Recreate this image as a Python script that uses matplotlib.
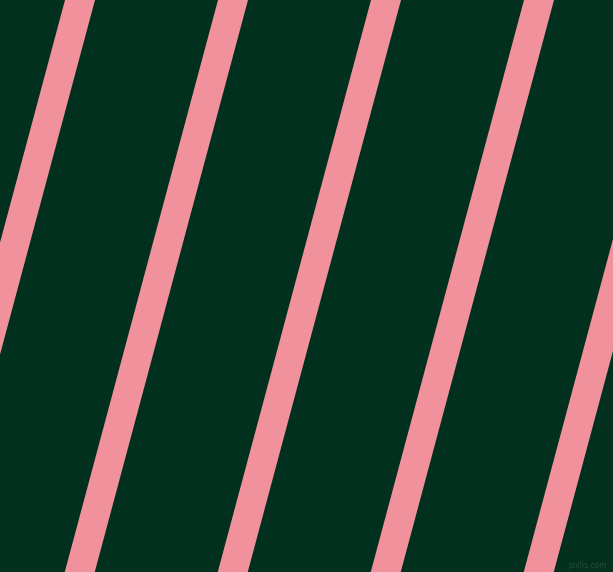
import matplotlib
matplotlib.use("Agg")
import matplotlib.pyplot as plt

# Pattern data
stripe_left_top = [-88, 65, 218, 371, 524, 677]   # x of stripe left edge at top (px)
stripe_width = 30                                  # horizontal width (px)
stripe_slope = 0.2679                              # dx per dy (75 deg lines)
bg_color = "#02301e"
stripe_color = "#f0919b"
W, H = 613, 572

fig = plt.figure(figsize=(W / 100, H / 100), dpi=100)
ax = fig.add_axes([0, 0, 1, 1])
ax.set_xlim(0, W)
ax.set_ylim(H, 0)
ax.axis("off")
ax.add_patch(plt.Rectangle((0, 0), W, H, color=bg_color, zorder=0))

for x0 in stripe_left_top:
    xs = [x0, x0 + stripe_width, x0 + stripe_width - stripe_slope * H, x0 - stripe_slope * H]
    ys = [0, 0, H, H]
    ax.fill(xs, ys, color=stripe_color, lw=0, zorder=1)

ax.text(607, 566, "pixlis.com", color="#2a4a3a", fontsize=5.5, ha="right", va="center", zorder=2)

fig.savefig("out.png", dpi=100)
